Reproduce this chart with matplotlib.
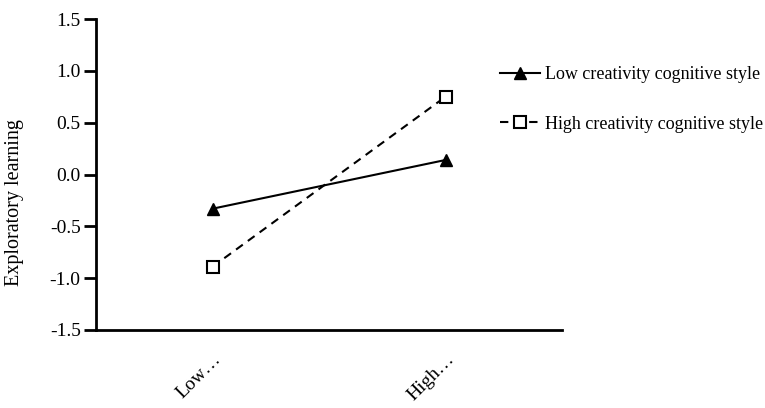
import matplotlib
matplotlib.use('Agg')
import matplotlib.pyplot as plt

categories = ['Low…', 'High…']
low_creativity = [-0.33, 0.14]
high_creativity = [-0.89, 0.75]

plt.rcParams['font.family'] = ['Liberation Serif', 'DejaVu Serif']

fig = plt.figure(figsize=(7.65, 4.08), dpi=100)
ax = fig.add_axes([96 / 765, 1 - 330 / 408, 466 / 765, 311 / 408])

x = list(range(len(categories)))
ax.plot(x, low_creativity, color='black', linestyle='-', linewidth=1.5,
        marker='^', markersize=9, markerfacecolor='black',
        label='Low creativity cognitive style')
ax.plot(x, high_creativity, color='black', linestyle=(0, (4, 3)), linewidth=1.5,
        marker='s', markersize=9, markerfacecolor='white', markeredgewidth=1.5,
        label='High creativity cognitive style')

ax.set_xlim(-0.5, 1.5)
ax.set_ylim(-1.5, 1.5)
ax.set_yticks([-1.5, -1.0, -0.5, 0.0, 0.5, 1.0, 1.5])
ax.set_yticklabels(['%.1f' % v for v in ax.get_yticks()])
ax.set_xticks(x)
ax.set_xticklabels(categories, rotation=45, ha='right', rotation_mode='anchor')
ax.tick_params(axis='x', length=0, pad=15, labelsize=14)
ax.tick_params(axis='y', length=9, width=2, pad=2, labelsize=14)
ax.set_ylabel('Exploratory learning', fontsize=14.5)
ax.yaxis.set_label_coords(-0.155, 0.41)

for s in ['top', 'right']:
    ax.spines[s].set_visible(False)
for s in ['left', 'bottom']:
    ax.spines[s].set_linewidth(2)

ax.legend(loc='upper left', bbox_to_anchor=(0.867, 0.848), frameon=False,
          fontsize=13, labelspacing=1.8, handlelength=2.2, handletextpad=0.3,
          borderpad=0, borderaxespad=0)

fig.savefig('out.png', dpi=100)
